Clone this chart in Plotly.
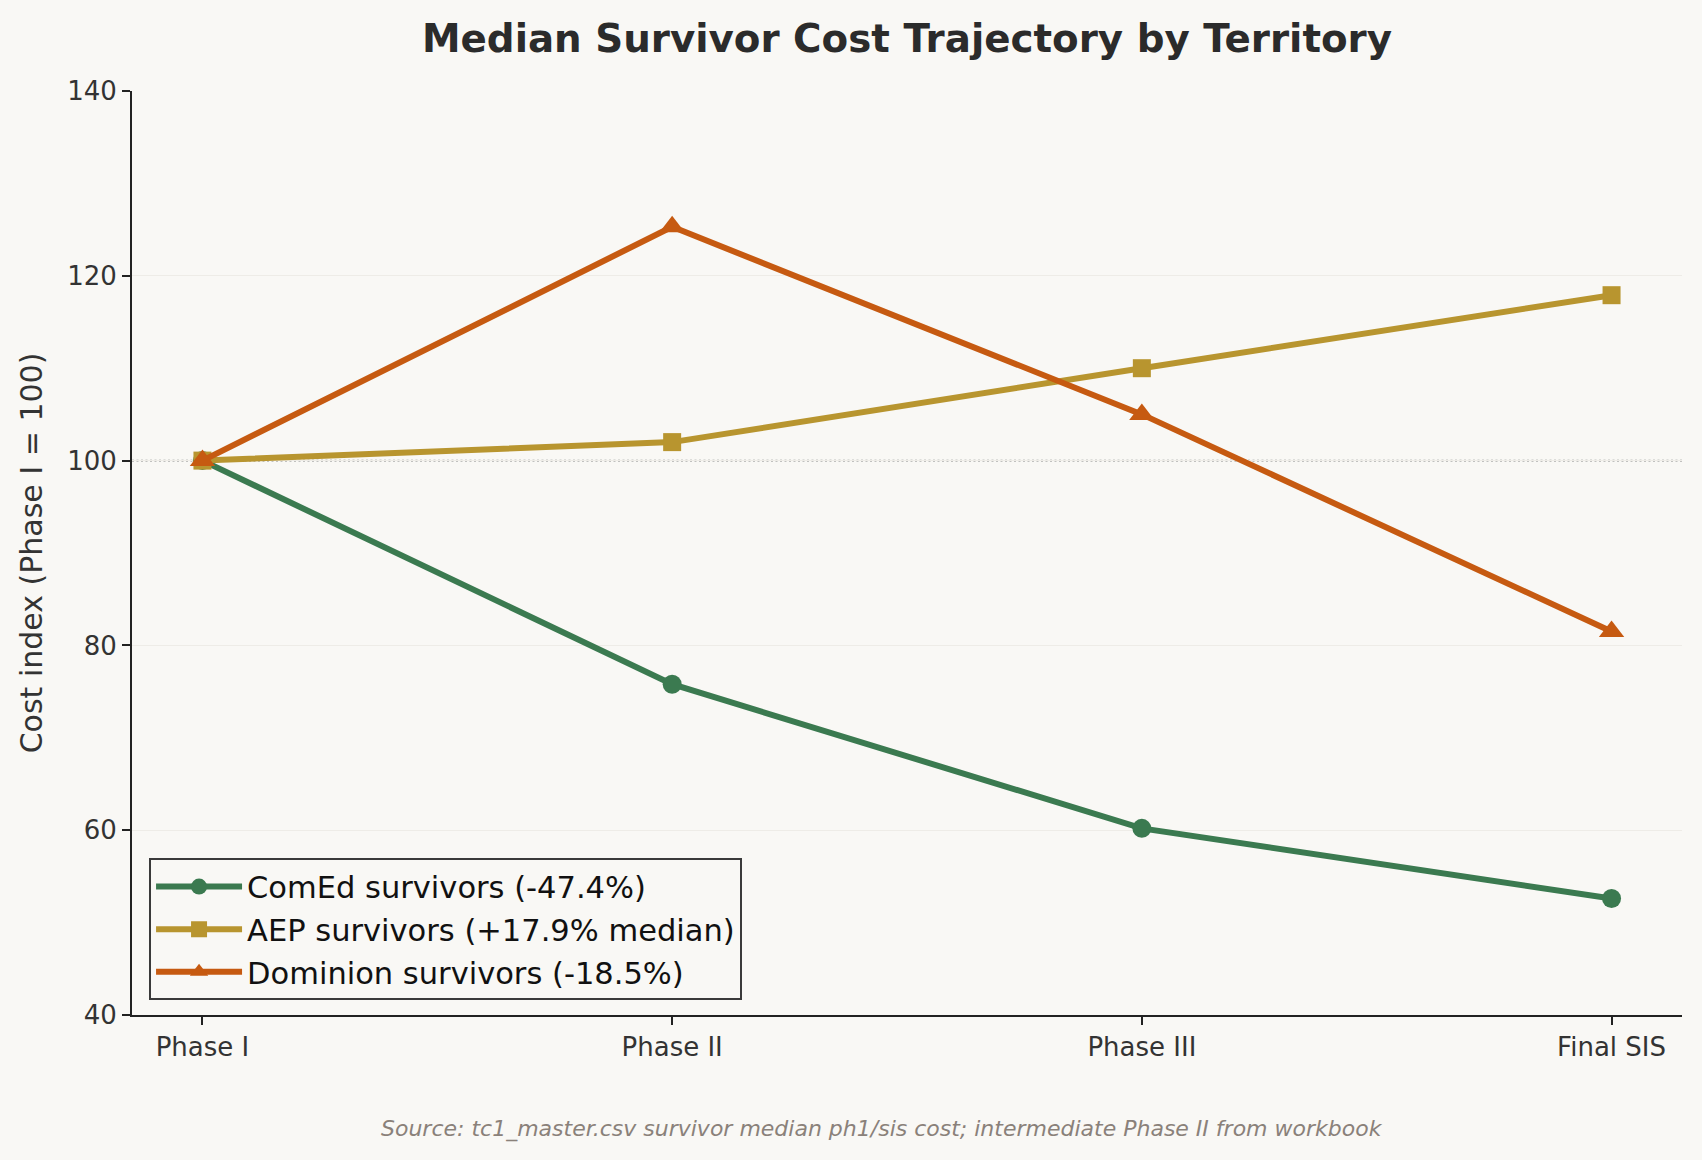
import plotly.graph_objects as go

phases = ["Phase I", "Phase II", "Phase III", "Final SIS"]
comed = [100, 75.8, 60.2, 52.6]
aep = [100, 102.0, 110.0, 117.9]
dominion = [100, 125.3, 105.0, 81.5]
series_names = ["ComEd survivors (-47.4%)", "AEP survivors (+17.9% median)", "Dominion survivors (-18.5%)"]
y_ticks = [40, 60, 80, 100, 120, 140]

BG = "#f9f8f5"
colors = ["#3b7a50", "#b8952f", "#c65a11"]
symbols = ["circle", "square", "triangle-up"]
msizes = [19, 18, 22]
FONT = "DejaVu Sans"

fig = go.Figure()
for i, (name, vals, c, s, ms) in enumerate(zip(series_names, [comed, aep, dominion], colors, symbols, msizes)):
    fig.add_trace(go.Scatter(
        x=phases, y=vals, name=name, mode="lines+markers",
        line=dict(color=c, width=6),
        marker=dict(color=c, symbol=s, size=ms, line=dict(width=0)),
    ))

fig.add_shape(type="line", xref="paper", x0=0, x1=1, yref="y", y0=100, y1=100,
              line=dict(color="#8a8a8a", width=1.6, dash="2px,2.5px"), layer="below")

fig.update_layout(
    width=1702, height=1160,
    paper_bgcolor=BG, plot_bgcolor=BG,
    margin=dict(l=132, r=20, t=91, b=145),
    font=dict(family=FONT, color="#333333"),
    title=dict(text="<b>Median Survivor Cost Trajectory by Territory</b>",
               x=0.5, xref="paper", xanchor="center",
               y=1 - 38 / 1160, yref="container", yanchor="middle",
               font=dict(size=38.8, family=FONT, color="#2b2b2b")),
    showlegend=True,
    legend=dict(x=0.011, y=0.016, xanchor="left", yanchor="bottom",
                bgcolor=BG, bordercolor="#3a3a3a", borderwidth=2,
                font=dict(size=30.5, family=FONT, color="#111111"),
                itemwidth=86, tracegroupgap=0),
)

fig.update_xaxes(
    type="category", range=[-0.15, 3.15],
    showline=True, linecolor="#222222", linewidth=2, mirror=False,
    ticks="outside", ticklen=8, tickwidth=2, tickcolor="#222222",
    showgrid=False, zeroline=False,
    tickfont=dict(size=26, family=FONT, color="#333333"),
)
fig.update_yaxes(
    range=[40, 140], tickvals=y_ticks,
    showline=True, linecolor="#222222", linewidth=2, mirror=False,
    ticks="outside", ticklen=8, tickwidth=2, tickcolor="#222222",
    showgrid=True, gridcolor="#eeece7", gridwidth=1, zeroline=False,
    tickfont=dict(size=26, family=FONT, color="#333333"),
    title=dict(text="Cost index (Phase I = 100)", standoff=16,
               font=dict(size=30, family=FONT, color="#333333")),
)

fig.add_annotation(
    text="<i>Source: tc1_master.csv survivor median ph1/sis cost; intermediate Phase II from workbook</i>",
    xref="paper", yref="paper", x=0.4837, y=-0.1234, xanchor="center", yanchor="middle",
    showarrow=False, font=dict(size=22, family=FONT, color="#8a817a"),
)

fig.write_html("out.html")
